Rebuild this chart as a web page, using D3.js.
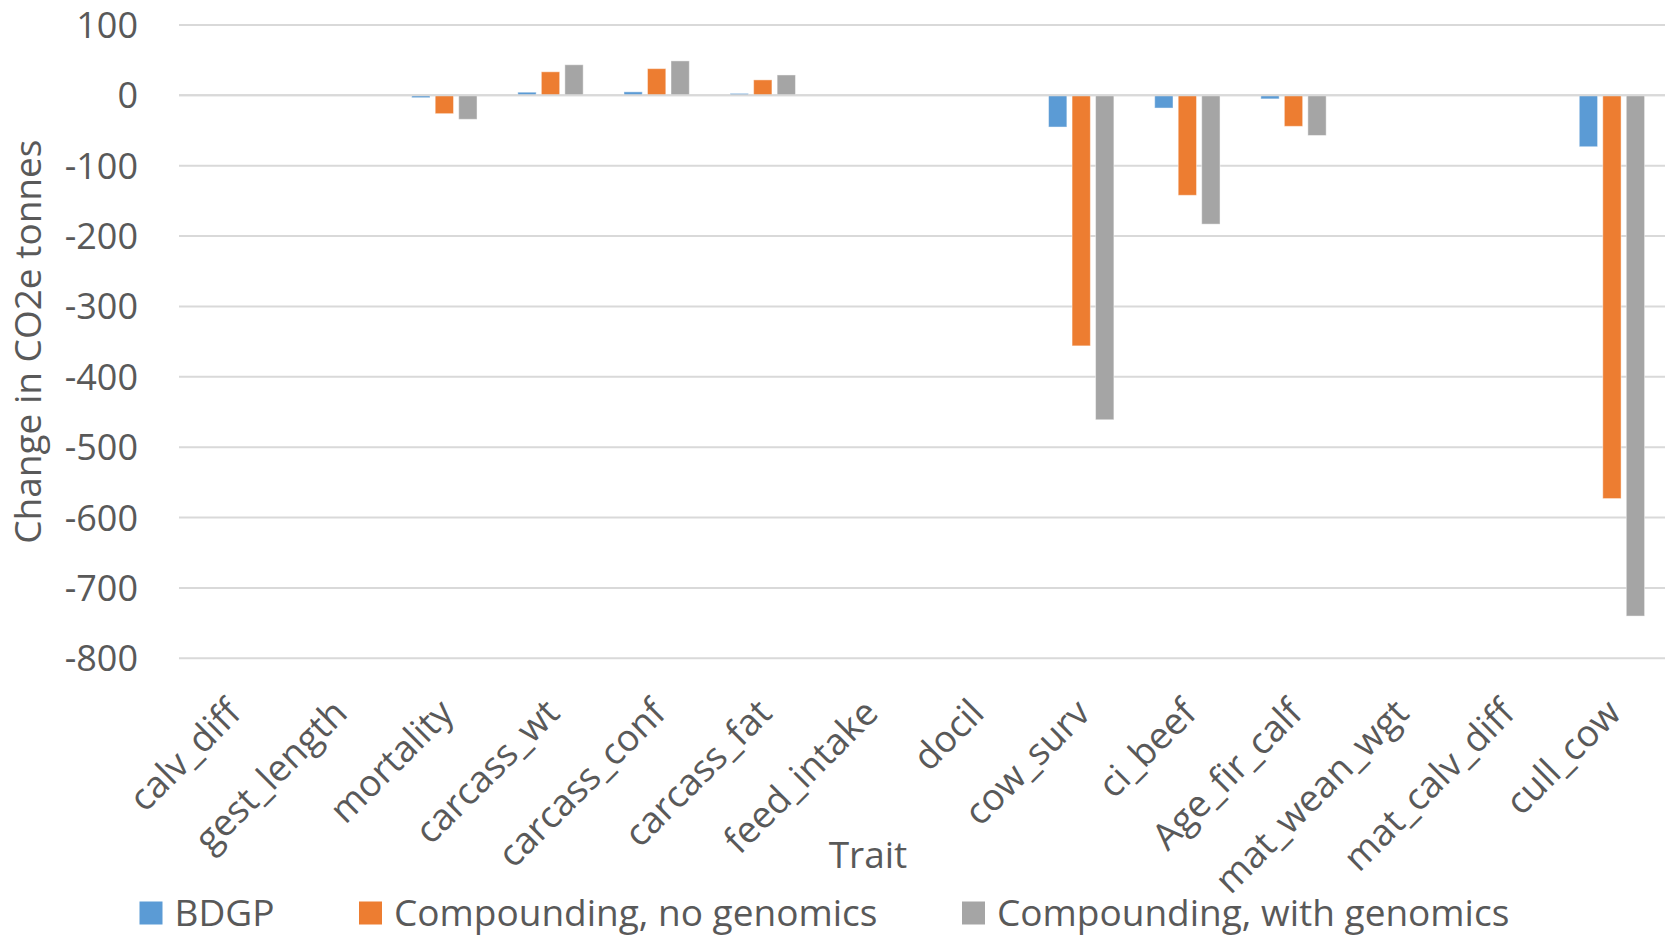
<!DOCTYPE html>
<html>
<head>
<meta charset="utf-8">
<script src="https://cdn.jsdelivr.net/npm/d3@7"></script>
<style>
  html, body { margin: 0; padding: 0; background: #ffffff; }
  svg { display: block; }
  text { font-family: "Open Sans", "Noto Sans", sans-serif; fill: #595959; }
</style>
</head>
<body>
<svg id="chart" width="1670" height="936"></svg>
<script>
// Traits on the category axis
const traits = ["calv_diff", "gest_length", "mortality", "carcass_wt", "carcass_conf",
  "carcass_fat", "feed_intake", "docil", "cow_surv", "ci_beef", "Age_fir_calf",
  "mat_wean_wgt", "mat_calv_diff", "cull_cow"];

// Series names and colours
const seriesNames = ["BDGP", "Compounding, no genomics", "Compounding, with genomics"];
const seriesColors = ["#5B9BD5", "#ED7D31", "#A5A5A5"];

// Change in CO2e tonnes per trait, one array per series
const bdgp          = [0, 0, -3.3, 4.5, 5, 2.8, 0, 0, -45, -18, -5, 0, 0, -73];
const compNoGenom   = [0, 0, -26, 33.5, 38, 22, 0, 0, -356, -142, -44, 0, 0, -573];
const compWithGenom = [0, 0, -34, 43.5, 49, 29, 0, 0, -461, -183, -57, 0, 0, -740];

// Value axis ticks
const yTicks = [100, 0, -100, -200, -300, -400, -500, -600, -700, -800];

const seriesValues = [bdgp, compNoGenom, compWithGenom];

const svg = d3.select("#chart");
const plot = { left: 179, right: 1665, top: 25, bottom: 658.3 };
const fontSize = "37px";

const y = d3.scaleLinear().domain([-800, 100]).range([plot.bottom, plot.top]);
const x = d3.scaleBand().domain(traits).range([plot.left, plot.right]).padding(0);

// Bars sit in a cluster covering ~62% of each category
const groupW = x.bandwidth() * 0.6155;
const xs = d3.scaleBand().domain(seriesNames)
  .range([-groupW / 2, groupW / 2]).paddingInner(0.221).paddingOuter(0);

// Horizontal gridlines
svg.append("g").selectAll("line").data(yTicks).join("line")
  .attr("x1", plot.left).attr("x2", plot.right)
  .attr("y1", d => y(d)).attr("y2", d => y(d))
  .attr("stroke", "#D9D9D9").attr("stroke-width", 2);

// Y tick labels
svg.append("g").selectAll("text").data(yTicks).join("text")
  .attr("x", 138).attr("y", d => y(d))
  .attr("dy", "0.36em")
  .attr("text-anchor", "end")
  .style("font-size", "36px")
  .text(d => d);

// Bars
const rows = [];
seriesNames.forEach((s, i) => {
  traits.forEach((t, j) => rows.push({ series: s, trait: t, value: seriesValues[i][j], color: seriesColors[i] }));
});
svg.append("g").selectAll("rect").data(rows.filter(r => r.value !== 0)).join("rect")
  .attr("x", d => x(d.trait) + x.bandwidth() / 2 + xs(d.series))
  .attr("width", xs.bandwidth())
  .attr("y", d => Math.min(y(d.value), y(0)))
  .attr("height", d => Math.abs(y(d.value) - y(0)))
  .attr("fill", d => d.color)
  .attr("stroke", "#ffffff").attr("stroke-opacity", 0.45).attr("stroke-width", 1);

// Zero axis line drawn over the bars
svg.append("line")
  .attr("x1", plot.left).attr("x2", plot.right)
  .attr("y1", y(0)).attr("y2", y(0))
  .attr("stroke", "#D9D9D9").attr("stroke-width", 2);

// Rotated category labels
svg.append("g").selectAll("text").data(traits).join("text")
  .attr("text-anchor", "end")
  .attr("dy", "0.35em")
  .style("font-size", fontSize)
  .attr("transform", d => `translate(${x(d) + x.bandwidth() / 2 + 2},${706}) rotate(-45)`)
  .text(d => d);

// Axis titles
svg.append("text")
  .attr("x", 868).attr("y", 855).attr("dy", "0.35em")
  .attr("text-anchor", "middle")
  .style("font-size", fontSize)
  .text("Trait");

svg.append("text")
  .attr("transform", `translate(28,${(plot.top + plot.bottom) / 2}) rotate(-90)`)
  .attr("dy", "0.35em")
  .attr("text-anchor", "middle")
  .style("font-size", fontSize)
  .text("Change in CO2e tonnes");

// Legend
const legendX = [139.5, 359, 962];
const lg = svg.append("g").selectAll("g").data(seriesNames).join("g")
  .attr("transform", (d, i) => `translate(${legendX[i]},913)`);
lg.append("rect").attr("x", 0).attr("y", -11.5).attr("width", 23).attr("height", 23)
  .attr("fill", (d, i) => seriesColors[i]);
lg.append("text").attr("x", 35).attr("dy", "0.35em")
  .style("font-size", fontSize)
  .text(d => d);
</script>
</body>
</html>
